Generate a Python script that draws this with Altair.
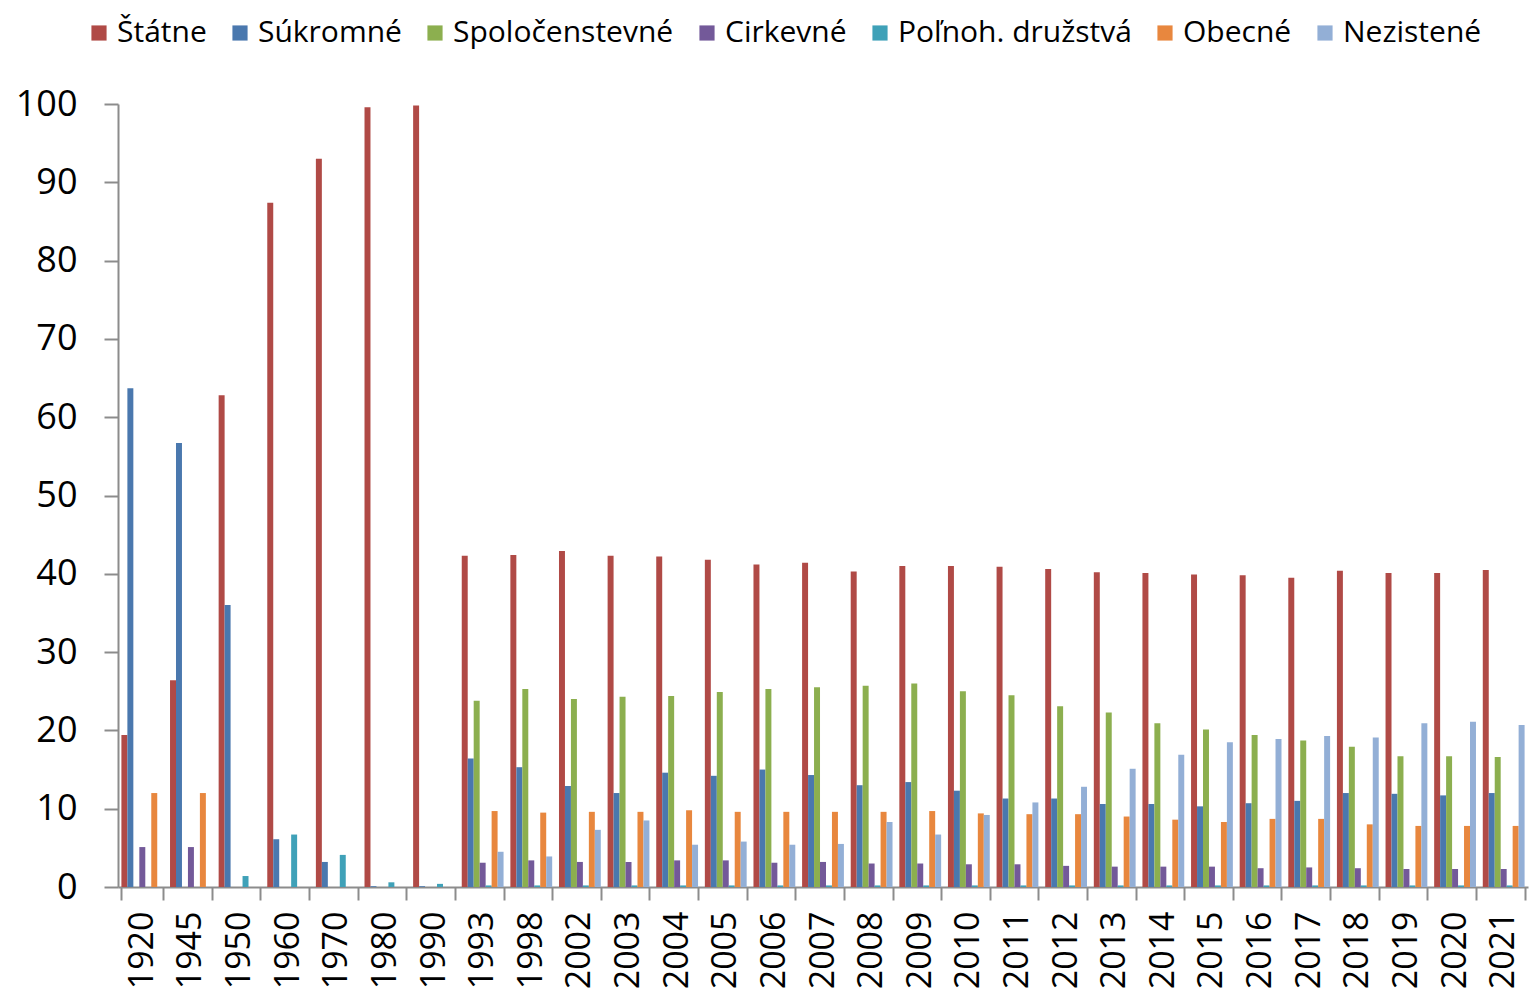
import altair as alt
import pandas as pd

years = ["1920", "1945", "1950", "1960", "1970", "1980", "1990", "1993", "1998",
         "2002", "2003", "2004", "2005", "2006", "2007", "2008", "2009", "2010",
         "2011", "2012", "2013", "2014", "2015", "2016", "2017", "2018", "2019",
         "2020", "2021"]

series = ["Štátne", "Súkromné", "Spoločenstevné", "Cirkevné", "Poľnoh. družstvá",
          "Obecné", "Nezistené"]

colors = ["#B04A46", "#4A78AE", "#8CAF4F", "#735999", "#3FA1B8", "#E8873E", "#93AFD6"]

statne = [19.4, 26.4, 62.8, 87.4, 93.0, 99.6, 99.8, 42.3, 42.4, 42.9, 42.3, 42.2,
          41.8, 41.2, 41.4, 40.3, 41.0, 41.0, 40.9, 40.6, 40.2, 40.1, 39.9, 39.8,
          39.5, 40.4, 40.1, 40.1, 40.5]
sukromne = [63.7, 56.7, 36.0, 6.1, 3.2, 0.1, 0.1, 16.4, 15.3, 12.9, 12.0, 14.6,
            14.2, 15.0, 14.3, 13.0, 13.4, 12.3, 11.3, 11.3, 10.6, 10.6, 10.3, 10.7,
            11.0, 12.0, 11.9, 11.7, 12.0]
spolocenstevne = [0, 0, 0, 0, 0, 0, 0, 23.8, 25.3, 24.0, 24.3, 24.4, 24.9, 25.3,
                  25.5, 25.7, 26.0, 25.0, 24.5, 23.1, 22.3, 20.9, 20.1, 19.4, 18.7,
                  17.9, 16.7, 16.7, 16.6]
cirkevne = [5.1, 5.1, 0, 0, 0, 0, 0, 3.1, 3.4, 3.2, 3.2, 3.4, 3.4, 3.1, 3.2, 3.0,
            3.0, 2.9, 2.9, 2.7, 2.6, 2.6, 2.6, 2.4, 2.5, 2.4, 2.3, 2.3, 2.3]
polnoh = [0, 0, 1.4, 6.7, 4.1, 0.6, 0.4, 0.2, 0.2, 0.2, 0.2, 0.2, 0.2, 0.2, 0.2,
          0.2, 0.2, 0.2, 0.2, 0.2, 0.2, 0.2, 0.2, 0.2, 0.2, 0.2, 0.2, 0.2, 0.2]
obecne = [12.0, 12.0, 0, 0, 0, 0, 0, 9.7, 9.5, 9.6, 9.6, 9.8, 9.6, 9.6, 9.6, 9.6,
          9.7, 9.4, 9.3, 9.3, 9.0, 8.6, 8.3, 8.7, 8.7, 8.0, 7.8, 7.8, 7.8]
nezistene = [0, 0, 0, 0, 0, 0, 0, 4.5, 3.9, 7.3, 8.5, 5.4, 5.8, 5.4, 5.5, 8.3, 6.7,
             9.2, 10.8, 12.8, 15.1, 16.9, 18.5, 18.9, 19.3, 19.1, 20.9, 21.1, 20.7]

values = [statne, sukromne, spolocenstevne, cirkevne, polnoh, obecne, nezistene]

rows = []
for s, vals in zip(series, values):
    for y, v in zip(years, vals):
        rows.append({"rok": y, "typ": s, "hodnota": v})
df = pd.DataFrame(rows)

FONT = "Open Sans"
AXIS_GRAY = "#8C8C8C"

bars = alt.Chart(df).mark_bar(stroke=None).encode(
    x=alt.X("rok:N", sort=years,
            scale=alt.Scale(paddingInner=0.14, paddingOuter=0.07),
            axis=alt.Axis(title=None, labelAngle=-90, labelFontSize=34, labelFont=FONT,
                          labelColor="#000000", tickBand="extent", tickSize=13,
                          tickColor=AXIS_GRAY, tickWidth=2, domainColor=AXIS_GRAY,
                          domainWidth=2, labelPadding=11)),
    xOffset=alt.XOffset("typ:N", sort=series, scale=alt.Scale(paddingInner=0, paddingOuter=0)),
    y=alt.Y("hodnota:Q", scale=alt.Scale(domain=[0, 100], nice=False),
            axis=alt.Axis(title=None, values=list(range(0, 101, 10)), labelFontSize=36,
                          labelFont=FONT, labelColor="#000000", tickSize=14,
                          tickColor=AXIS_GRAY, tickWidth=2, domainColor=AXIS_GRAY,
                          domainWidth=2, labelPadding=27, grid=False)),
    color=alt.Color("typ:N", sort=series,
                    scale=alt.Scale(domain=series, range=colors),
                    legend=alt.Legend(title=None, orient="none", direction="horizontal",
                                      legendX=-34, legendY=-86, symbolType="square",
                                      symbolSize=230, symbolStrokeWidth=0,
                                      labelFont=FONT, labelFontSize=30, labelColor="#000000",
                                      labelOffset=3, columnPadding=18, labelLimit=0,
                                      columns=7)),
)

chart = bars.properties(
    width=1410, height=783,
    padding={"left": 110, "top": 96, "right": 2, "bottom": 108},
    autosize=alt.AutoSizeParams(type="none"),
).configure(font=FONT).configure_view(strokeWidth=0)

chart.save("out.html", embed_options={"renderer": "svg", "actions": False})
